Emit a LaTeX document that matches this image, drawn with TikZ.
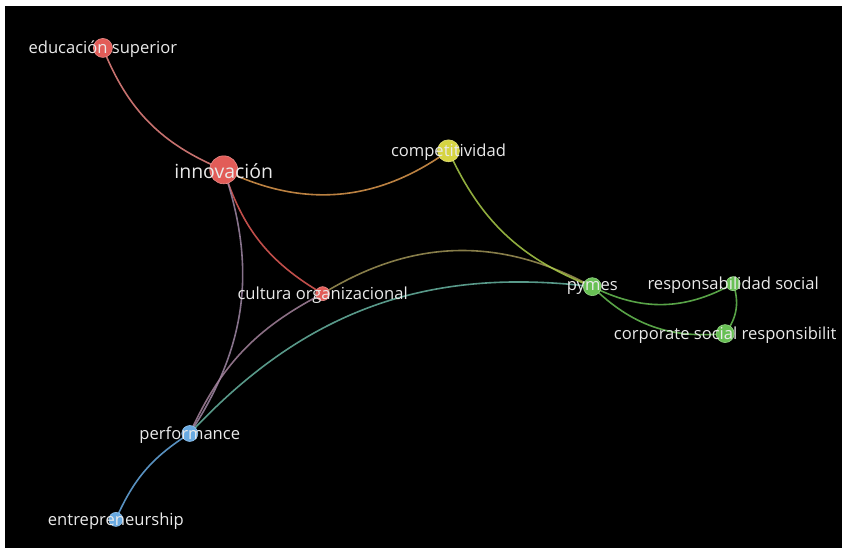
\documentclass[tikz,border=0pt]{standalone}
\usepackage{fontspec}
\setmainfont{Open Sans}
\usetikzlibrary{positioning}
\definecolor{redc}{RGB}{226,92,88}
\definecolor{yelc}{RGB}{214,212,66}
\definecolor{grnc}{RGB}{104,192,84}
\definecolor{bluc}{RGB}{104,170,226}
\definecolor{txtc}{RGB}{234,234,234}
\pgfdeclarelayer{back}
\pgfdeclarelayer{links}
\pgfsetlayers{back,links,main}

\begin{document}
\begin{tikzpicture}[x=1pt,y=-1pt,% pixel coordinates, y runs down
		every node/.style={inner sep=0pt},
		dot/.style={circle,fill=#1,draw=#1!70!white,line width=0.6pt},
		lbl/.style={text=txtc,font=\fontsize{16.6}{16.6}\selectfont,yshift=-1.5pt},
		biglbl/.style={text=txtc,font=\fontsize{19.5}{19.5}\selectfont,yshift=-1pt},
		link/.style={draw=#1,line width=1.6pt,opacity=0.85}
	]
	\begin{pgfonlayer}{back}
		\fill[white] (0,0) rectangle (842,551);
		\fill[black] (5,6) rectangle (843,549);
	\end{pgfonlayer}

	% clusters: red, yellow, green, blue
	\node[dot=redc,minimum size=19pt,label={[lbl]center:educación superior}](edu) at (103,48) {};
	\node[dot=redc,minimum size=28pt,label={[biglbl]center:innovación}](inno) at (224,170) {};
	\node[dot=redc,minimum size=14pt,label={[lbl]center:cultura organizacional}](cult) at (323,294) {};
	\node[dot=yelc,minimum size=22pt,label={[lbl]center:competitividad}](comp) at (449,151) {};
	\node[dot=grnc,minimum size=18pt,label={[lbl]center:pymes}](pym) at (593,287) {};
	\node[dot=grnc,minimum size=14pt,label={[lbl]center:responsabilidad social}](resp) at (734,284) {};
	\node[dot=grnc,minimum size=18pt,label={[lbl]center:corporate social responsibilit}](corp) at (726,334) {};
	\node[dot=bluc,minimum size=16pt,label={[lbl]center:performance}](perf) at (190,434) {};
	\node[dot=bluc,minimum size=14pt,label={[lbl]center:entrepreneurship}](entr) at (116,520) {};

	\begin{pgfonlayer}{links}
		\path
		(edu.center) edge[link=redc!75!white,bend right=23] (inno.center)
		(inno.center) edge[link=redc!50!yelc,bend right=31] (comp.center)
		(inno.center) edge[link=redc,bend right=21] (cult.center)
		(perf.center) edge[link=redc!45!bluc,bend right=26] (inno.center)
		(cult.center) edge[link=redc!50!bluc,bend right=19] (perf.center)
		(pym.center) edge[link=redc!45!grnc,bend right=30] (cult.center)
		(pym.center) edge[link=grnc!45!bluc,bend right=27] (perf.center)
		(comp.center) edge[link=yelc!60!grnc,bend right=22] (pym.center)
		(pym.center) edge[link=grnc,bend right=28] (resp.center)
		(pym.center) edge[link=grnc,bend right=25] (corp.center)
		(corp.center) edge[link=grnc,bend right=28] (resp.center)
		(perf.center) edge[link=bluc,bend right=17] (entr.center)
		;
	\end{pgfonlayer}
\end{tikzpicture}
\end{document}
